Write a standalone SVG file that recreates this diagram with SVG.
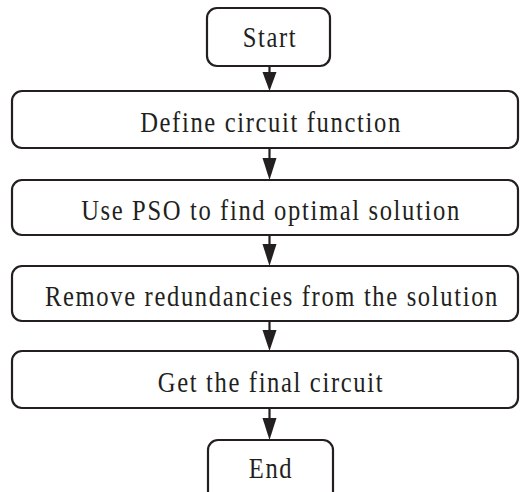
<svg xmlns="http://www.w3.org/2000/svg" width="520" height="492" viewBox="0 0 520 492">
<style>
.box{fill:#fff;stroke:#231f20;stroke-width:2.2}
.t{font-family:"Liberation Serif","Times New Roman",Times,serif;font-size:30px;letter-spacing:2px;fill:#231f20;text-anchor:middle}
.c{stroke:#231f20;stroke-width:2.2;fill:none}
.h{fill:#231f20}
</style>
<rect width="520" height="492" fill="#fff"/>
<g id="connectors">
<line class="c" x1="269.5" y1="66" x2="269.5" y2="76"/><polygon class="h" points="262.5,72 276.5,72 269.5,91"/>
<line class="c" x1="269.5" y1="148" x2="269.5" y2="160"/><polygon class="h" points="262.5,158 276.5,158 269.5,180"/>
<line class="c" x1="269.5" y1="235" x2="269.5" y2="246"/><polygon class="h" points="262.5,244 276.5,244 269.5,266"/>
<line class="c" x1="269.5" y1="321" x2="269.5" y2="332"/><polygon class="h" points="262.5,330 276.5,330 269.5,351"/>
<line class="c" x1="269.5" y1="408" x2="269.5" y2="420"/><polygon class="h" points="262.5,418 276.5,418 269.5,440"/>
</g>
<g id="start"><rect class="box" x="207" y="8" width="123" height="58" rx="10"/><text class="t" transform="translate(270,46.5) scale(0.82,1)">Start</text></g>
<g id="define"><rect class="box" x="12" y="91" width="506" height="57" rx="10"/><text class="t" transform="translate(271,132) scale(0.82,1)">Define circuit function</text></g>
<g id="pso"><rect class="box" x="12" y="180" width="506" height="55" rx="10"/><text class="t" transform="translate(271,220) scale(0.82,1)">Use PSO to find optimal solution</text></g>
<g id="remove"><rect class="box" x="12" y="266" width="506" height="55" rx="10"/><text class="t" transform="translate(272,306) scale(0.82,1)">Remove redundancies from the solution</text></g>
<g id="final"><rect class="box" x="12" y="351" width="506" height="57" rx="10"/><text class="t" transform="translate(271,392) scale(0.82,1)">Get the final circuit</text></g>
<g id="end"><rect class="box" x="208" y="440" width="125" height="70" rx="10"/><text class="t" transform="translate(271,478) scale(0.82,1)">End</text></g>
</svg>
